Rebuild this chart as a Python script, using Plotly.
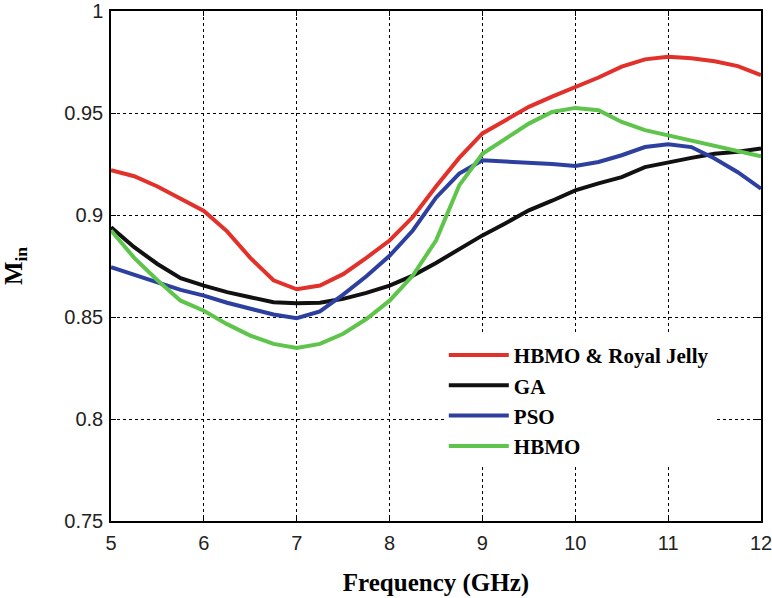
import plotly.graph_objects as go

freq = [5.0, 5.25, 5.5, 5.75, 6.0, 6.25, 6.5, 6.75, 7.0, 7.25, 7.5, 7.75, 8.0, 8.25, 8.5, 8.75,
        9.0, 9.25, 9.5, 9.75, 10.0, 10.25, 10.5, 10.75, 11.0, 11.25, 11.5, 11.75, 12.0]

hbmo_rj = [0.922, 0.919, 0.914, 0.908, 0.902, 0.892, 0.879, 0.868, 0.8636, 0.8654, 0.871, 0.879,
           0.8875, 0.899, 0.914, 0.928, 0.940, 0.9465, 0.953, 0.958, 0.9625, 0.9674, 0.9727, 0.9763,
           0.9776, 0.9768, 0.9754, 0.973, 0.9686]
ga = [0.894, 0.8842, 0.876, 0.8690, 0.8654, 0.8622, 0.8597, 0.8572, 0.8567, 0.857, 0.8589, 0.8618,
      0.8654, 0.8703, 0.8765, 0.8834, 0.890, 0.896, 0.9023, 0.907, 0.9121, 0.9155, 0.9186, 0.9235,
      0.926, 0.928, 0.930, 0.931, 0.9326]
pso = [0.8744, 0.8705, 0.867, 0.8633, 0.8605, 0.857, 0.854, 0.8512, 0.8494, 0.8527, 0.861, 0.870,
       0.880, 0.8924, 0.9085, 0.9203, 0.9268, 0.9263, 0.9258, 0.925, 0.924, 0.926, 0.9293, 0.9333,
       0.9347, 0.9333, 0.9277, 0.921, 0.9129]
hbmo = [0.8924, 0.879, 0.868, 0.858, 0.8531, 0.8465, 0.8409, 0.8368, 0.8348, 0.8368, 0.8418, 0.849,
        0.858, 0.8703, 0.8875, 0.9145, 0.930, 0.9375, 0.9448, 0.9505, 0.9525, 0.9514, 0.9456, 0.9416,
        0.9391, 0.9366, 0.9342, 0.9317, 0.9288]

series = [
    ("HBMO & Royal Jelly", hbmo_rj, "#E2312A"),
    ("GA", ga, "#111111"),
    ("PSO", pso, "#2E409F"),
    ("HBMO", hbmo, "#5EC44B"),
]

x_ticks = [5, 6, 7, 8, 9, 10, 11, 12]
y_ticks = [0.75, 0.8, 0.85, 0.9, 0.95, 1]
y_tick_labels = ["0.75", "0.8", "0.85", "0.9", "0.95", "1"]

fig = go.Figure()
for name, vals, color in series:
    fig.add_trace(go.Scatter(x=freq, y=vals, mode="lines", name=name,
                             line=dict(color=color, width=4)))

axis_common = dict(
    automargin=False, ticklabeloverflow="allow",
    showline=True, linecolor="black", linewidth=1.5, mirror="ticks",
    ticks="inside", ticklen=5, tickcolor="black", tickwidth=1,
    showgrid=True, gridcolor="black", gridwidth=1, griddash="3px,3px",
    zeroline=False,
    tickfont=dict(family="Liberation Sans, Arial, sans-serif", size=20, color="#222"),
)

fig.update_xaxes(range=[5, 12], tickvals=x_ticks, ticklabelstandoff=3,
                 title=dict(text="Frequency (GHz)",
                            font=dict(family="Liberation Serif, Times New Roman, serif", size=25,
                                      color="black", weight="bold"),
                            standoff=21),
                 **axis_common)
fig.update_yaxes(range=[0.75, 1], tickvals=y_ticks, ticktext=y_tick_labels, ticklabelstandoff=2,
                 title=dict(text="M<sub>in</sub>",
                            font=dict(family="Liberation Serif, Times New Roman, serif", size=25,
                                      color="black", weight="bold"),
                            standoff=35),
                 **axis_common)

fig.update_layout(
    width=772, height=598,
    margin=dict(l=111, r=11, t=11, b=77),
    plot_bgcolor="white", paper_bgcolor="white",
    legend=dict(x=0.512, y=0.365, xanchor="left", yanchor="top",
                bgcolor="white", borderwidth=0, itemwidth=60,
                font=dict(family="Liberation Serif, Times New Roman, serif", size=21,
                          color="black", weight="bold"),
                tracegroupgap=0),
    showlegend=True,
)

fig.write_html("out.html", config={"displayModeBar": False},
               post_script="document.body.style.margin='0';")
